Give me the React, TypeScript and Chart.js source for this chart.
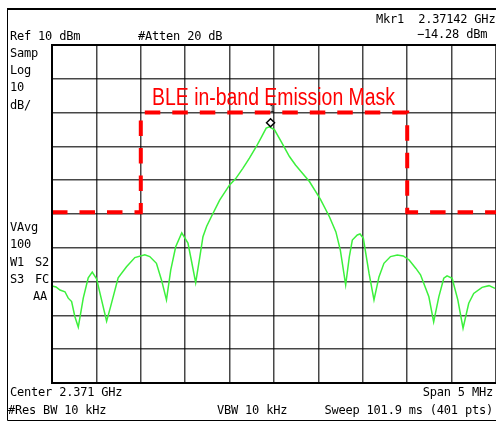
import React, { useEffect, useRef } from "react";
import { Chart, registerables } from "chart.js";

Chart.register(...registerables);

// Frequency offset from centre (MHz) and level (dBm) of the measured trace
const traceMHz = [
  -2.5, -2.455, -2.41, -2.354, -2.317, -2.279, -2.242, -2.204, -2.148, -2.092,
  -2.047, -1.998, -1.942, -1.885, -1.84, -1.755, -1.661, -1.567, -1.455, -1.399,
  -1.324, -1.267, -1.211, -1.163, -1.107, -1.039, -0.969, -0.927, -0.882, -0.837,
  -0.8, -0.758, -0.706, -0.612, -0.5, -0.433, -0.351, -0.275, -0.2, -0.14,
  -0.088, -0.051, 0.006, 0.081, 0.174, 0.242, 0.306, 0.399, 0.522, 0.624,
  0.697, 0.747, 0.807, 0.848, 0.882, 0.938, 0.969, 1.006, 1.07, 1.126,
  1.182, 1.238, 1.312, 1.388, 1.455, 1.522, 1.598, 1.65, 1.744, 1.798,
  1.856, 1.912, 1.949, 2.006, 2.07, 2.129, 2.193, 2.249, 2.343, 2.421, 2.489,
];
const traceDbm = [
  -61.3, -61.6, -62.5, -63.0, -64.9, -65.9, -70.4, -73.5, -64.9, -58.9,
  -57.2, -59.2, -65.4, -71.7, -67.4, -58.9, -55.6, -52.9, -52.1, -52.6,
  -54.6, -59.5, -65.4, -56.6, -49.7, -45.6, -48.6, -54.2, -60.3, -53.0,
  -46.7, -43.6, -40.8, -35.9, -31.4, -29.6, -26.5, -23.4, -20.1, -17.2,
  -14.6, -14.2, -15.1, -18.6, -23.0, -25.5, -27.5, -30.4, -35.6, -40.8,
  -45.3, -50.7, -61.0, -52.7, -47.7, -46.2, -45.9, -47.2, -57.5, -65.4,
  -58.6, -54.6, -52.6, -52.1, -52.4, -53.6, -56.1, -58.0, -64.5, -71.9,
  -64.5, -59.0, -58.3, -59.0, -65.4, -73.8, -66.4, -63.5, -61.7, -61.2, -62.0,
];

// BLE in-band emission mask
const maskMHz = [-2.5, -1.5, -1.5, 1.5, 1.5, 2.5];
const maskDbm = [-39.5, -39.5, -10, -10, -39.5, -39.5];

// Marker 1
const markerMHz = [-0.039];
const markerDbm = [-13.0];

// Axis settings: ref level 10 dBm, 10 dB/div, span 5 MHz
const yMin = -90;
const yMax = 10;
const xMin = -2.5;
const xMax = 2.5;

const topTexts = [
  { t: "Ref 10 dBm", x: 10, b: 40 },
  { t: "#Atten 20 dB", x: 138, b: 40 },
  { t: "Mkr1  2.37142 GHz", x: 376, b: 23.3 },
  { t: "\u221214.28 dBm", x: 417, b: 38 },
  { t: "Samp", x: 10, b: 57 },
  { t: "Log", x: 10, b: 74 },
  { t: "10", x: 10, b: 91.5 },
  { t: "dB/", x: 10, b: 109 },
  { t: "VAvg", x: 10, b: 231.5 },
  { t: "100", x: 10, b: 248.5 },
  { t: "W1", x: 10, b: 266 },
  { t: "S2", x: 35, b: 266 },
  { t: "S3", x: 10, b: 283 },
  { t: "FC", x: 35, b: 283 },
  { t: "AA", x: 33, b: 300.5 },
  { t: "Center 2.371 GHz", x: 10, b: 396 },
  { t: "#Res BW 10 kHz", x: 8, b: 414 },
  { t: "VBW 10 kHz", x: 217, b: 414 },
];
const rightTexts = [
  { t: "Span 5 MHz", r: 3, b: 396 },
  { t: "Sweep 101.9 ms (401 pts)", r: 3, b: 414 },
];

const framePlugin = {
  id: "frame",
  afterDraw(chart: any) {
    const ctx = chart.ctx;
    ctx.save();
    ctx.strokeStyle = "#000";
    ctx.lineWidth = 1;
    ctx.beginPath();
    ctx.moveTo(7.5, 8);
    ctx.lineTo(7.5, 420.5);
    ctx.lineTo(496, 420.5);
    ctx.stroke();
    ctx.lineWidth = 2;
    ctx.beginPath();
    ctx.moveTo(7, 9);
    ctx.lineTo(496, 9);
    ctx.stroke();
    const a = chart.chartArea;
    ctx.lineWidth = 2;
    ctx.beginPath();
    ctx.moveTo(a.right + 2, a.top);
    ctx.lineTo(a.left, a.top);
    ctx.lineTo(a.left, a.bottom);
    ctx.lineTo(a.right + 2, a.bottom);
    ctx.stroke();
    ctx.restore();
  },
};

export default function App() {
  const ref = useRef<HTMLCanvasElement>(null);
  useEffect(() => {
    if (!ref.current) return;
    const chart = new Chart(ref.current, {
      type: "line",
      data: {
        datasets: [
          {
            label: "Mask",
            data: maskMHz.map((x, i) => ({ x, y: maskDbm[i] })),
            borderColor: "#ff0000",
            borderWidth: 4,
            borderDash: [15.5, 12],
            pointRadius: 0,
            tension: 0,
            order: 2,
          },
          {
            label: "Trace",
            data: traceMHz.map((x, i) => ({ x, y: traceDbm[i] })),
            borderColor: "#3cf03c",
            borderWidth: 1.5,
            pointRadius: 0,
            tension: 0,
            order: 1,
          },
          {
            label: "Marker",
            type: "scatter",
            data: markerMHz.map((x, i) => ({ x, y: markerDbm[i] })),
            pointStyle: "rectRot",
            pointRadius: 4,
            borderColor: "#000",
            borderWidth: 1.5,
            backgroundColor: "#fff",
            order: 0,
          } as any,
        ],
      },
      options: {
        animation: false,
        responsive: false,
        maintainAspectRatio: false,
        layout: { autoPadding: false, padding: { left: 52, top: 45, right: -1, bottom: 39 } },
        plugins: { legend: { display: false }, tooltip: { enabled: false } },
        scales: {
          x: {
            type: "linear",
            min: xMin,
            max: xMax,
            ticks: { display: false, stepSize: 0.5 },
            grid: { color: "rgba(0,0,0,0.72)", lineWidth: 1.5, drawTicks: false },
            border: { display: false },
            afterFit: (s: any) => {
              s.height = 0;
            },
          },
          y: {
            type: "linear",
            min: yMin,
            max: yMax,
            ticks: { display: false, stepSize: 10 },
            grid: { color: "rgba(0,0,0,0.72)", lineWidth: 1.5, drawTicks: false },
            border: { display: false },
            afterFit: (s: any) => {
              s.width = 0;
            },
          },
        },
      },
      plugins: [framePlugin],
    });
    return () => chart.destroy();
  }, []);

  const mono: React.CSSProperties = {
    position: "absolute",
    font: '12px "DejaVu Sans Mono"',
    lineHeight: "12px",
    letterSpacing: "-0.2px",
    whiteSpace: "pre",
    color: "#000",
  };

  return (
    <div
      style={{
        position: "absolute",
        left: 0,
        top: 0,
        width: 496,
        height: 422,
        background: "#fff",
        overflow: "hidden",
      }}
    >
      <canvas
        ref={ref}
        width={496}
        height={422}
        style={{ position: "absolute", left: 0, top: 0, width: 496, height: 422 }}
      />
      {topTexts.map((d, i) => (
        <div key={"t" + i} style={{ ...mono, left: d.x, top: d.b - 10.15 }}>
          {d.t}
        </div>
      ))}
      {rightTexts.map((d, i) => (
        <div key={"r" + i} style={{ ...mono, right: d.r, top: d.b - 10.15 }}>
          {d.t}
        </div>
      ))}
      <div
        style={{
          position: "absolute",
          left: 269.5,
          top: 106,
          font: '8px "DejaVu Sans Mono"',
          lineHeight: "8px",
          color: "#000",
        }}
      >
        1
      </div>
      <div
        style={{
          position: "absolute",
          left: 151.7,
          top: 86,
          font: '23px "Liberation Sans", Arial, sans-serif',
          lineHeight: "23px",
          color: "#ff0000",
          whiteSpace: "pre",
          transform: "scaleX(0.845)",
          transformOrigin: "left top",
        }}
      >
        BLE in-band Emission Mask
      </div>
    </div>
  );
}
